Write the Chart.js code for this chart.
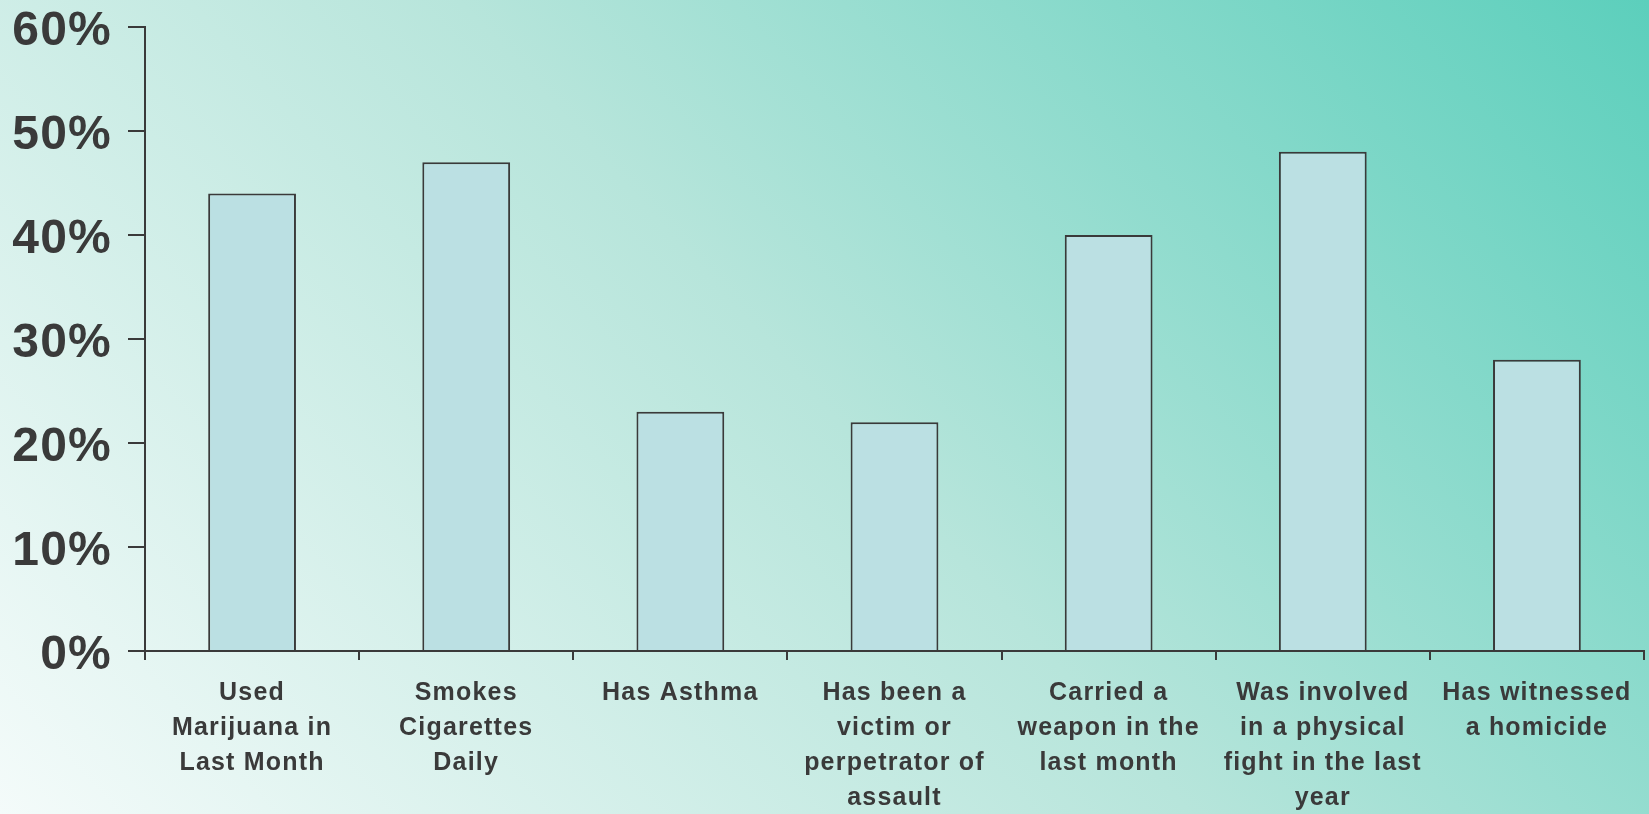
<!DOCTYPE html>
<html>
<head>
<meta charset="utf-8">
<script src="https://cdn.jsdelivr.net/npm/chart.js@4.4.1/dist/chart.umd.min.js"></script>
<style>
  html, body { margin: 0; padding: 0; overflow: hidden; }
  body {
    width: 1649px; height: 814px;
    background: linear-gradient(48deg, #f4fbfa 0%, #b7e5db 50%, #5ccfbc 100%);
  }
  #wrap { position: relative; width: 1649px; height: 814px; }
</style>
</head>
<body>
<div id="wrap"><canvas id="c"></canvas></div>
<script>
const categories = [
  ["Used", "Marijuana in", "Last Month"],
  ["Smokes", "Cigarettes", "Daily"],
  ["Has Asthma"],
  ["Has been a", "victim or", "perpetrator of", "assault"],
  ["Carried a", "weapon in the", "last month"],
  ["Was involved", "in a physical", "fight in the last", "year"],
  ["Has witnessed", "a homicide"]
];
const percentValues = [44, 47, 23, 22, 40, 48, 28];
const yTickValues = [0, 10, 20, 30, 40, 50, 60];

const ink = '#3a3a3a';

const letterSpacingPlugin = {
  id: 'ls',
  beforeDraw(chart) { chart.ctx.letterSpacing = '1.2px'; }
};

new Chart(document.getElementById('c'), {
  type: 'bar',
  data: {
    labels: categories,
    datasets: [{
      data: percentValues,
      backgroundColor: '#bbe0e3',
      borderColor: ink,
      borderWidth: 2,
      barPercentage: 0.41,
      categoryPercentage: 1
    }]
  },
  plugins: [letterSpacingPlugin],
  options: {
    responsive: true,
    maintainAspectRatio: false,
    animation: false,
    devicePixelRatio: 1,
    layout: { padding: { top: 27, right: 5, left: 0, bottom: 0 } },
    plugins: { legend: { display: false }, tooltip: { enabled: false } },
    scales: {
      x: {
        offset: true,
        afterFit(s) { s.height = 163; s.paddingLeft = 0; s.paddingRight = 0; },
        grid: {
          offset: true,
          drawOnChartArea: false,
          drawTicks: true,
          tickLength: 9,
          color: ink,
          lineWidth: 2
        },
        border: { display: true, color: ink, width: 2 },
        ticks: {
          color: ink,
          padding: 16,
          maxRotation: 0,
          autoSkip: false,
          font: { family: '"Liberation Sans", Arial, sans-serif', size: 25, weight: 'bold', lineHeight: 1.4 }
        }
      },
      y: {
        min: yTickValues[0],
        max: yTickValues[yTickValues.length - 1],
        afterFit(s) { s.width = 145; s.paddingTop = 0; s.paddingBottom = 0; },
        afterBuildTicks(s) { s.ticks = yTickValues.map(v => ({ value: v })); },
        grid: {
          drawOnChartArea: false,
          drawTicks: true,
          tickLength: 17,
          color: ink,
          lineWidth: 2
        },
        border: { display: true, color: ink, width: 2 },
        ticks: {
          color: ink,
          padding: 16,
          labelOffset: 5,
          callback: v => v + '%',
          font: { family: '"Liberation Sans", Arial, sans-serif', size: 48, weight: 'bold', lineHeight: 1 }
        }
      }
    }
  }
});
</script>
</body>
</html>
